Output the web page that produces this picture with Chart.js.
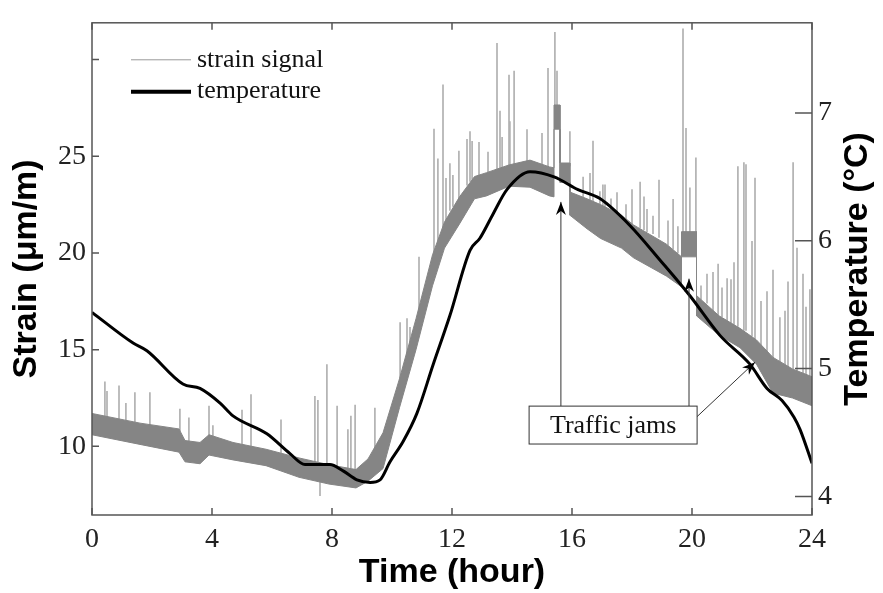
<!DOCTYPE html>
<html>
<head>
<meta charset="utf-8">
<script src="https://cdn.jsdelivr.net/npm/chart.js@4.4.1/dist/chart.umd.min.js"></script>
<style>
  html, body { margin: 0; padding: 0; background: #fff; }
  #wrap { width: 883px; height: 593px; }
</style>
</head>
<body>
<div id="wrap"><canvas id="chart"></canvas></div>
<script>
// ticks
const xTicks = [0, 4, 8, 12, 16, 20, 24];
const strainTicks = [10, 15, 20, 25, 30];
const strainLabels = ['10', '15', '20', '25', ''];
const tempTicks = [4, 5, 6, 7];

// temperature (right axis, °C)
const tempHours = [0, 1.37, 1.83, 3.03, 3.6, 4.27, 4.7, 5.83, 6.6, 7.1, 7.43, 7.93, 8.37, 8.83, 9.27, 9.6, 9.93, 10.37, 10.83, 11.37, 11.93, 12.6, 12.93, 13.37, 13.83, 14.6, 15.4, 16.2, 16.93, 17.93, 18.93, 19.93, 20.93, 21.93, 22.5, 23.0, 23.4, 23.6, 24];
const tempValues = [5.44, 5.2, 5.14, 4.88, 4.845, 4.73, 4.63, 4.49, 4.335, 4.25, 4.25, 4.25, 4.2, 4.13, 4.11, 4.13, 4.27, 4.43, 4.65, 5.03, 5.415, 5.925, 6.02, 6.21, 6.4, 6.54, 6.5, 6.4, 6.33, 6.12, 5.85, 5.57, 5.26, 5.035, 4.845, 4.75, 4.62, 4.525, 4.26];

// strain signal: dense band (upper / lower edge) ...
const bandHours = [0, 1.6, 2.9, 3.1, 3.6, 3.9, 4.7, 5.8, 6.9, 7.9, 8.8, 9.2, 9.7, 10.25, 10.8, 11.35, 11.75, 12.25, 12.75, 13.15, 13.9, 14.6, 15.25, 15.4, 15.4, 15.6, 15.6, 15.93, 15.93, 16.5, 16.95, 17.65, 18.05, 19.15, 19.65, 19.65, 20.15, 20.15, 20.9, 21.6, 22.15, 22.7, 23.35, 24];
const bandUpper = [11.7, 11.2, 10.9, 10.3, 10.2, 10.6, 10.2, 9.85, 9.4, 9.05, 8.8, 9.35, 10.7, 13.5, 16.6, 19.9, 21.6, 22.9, 23.95, 24.15, 24.55, 24.8, 24.45, 24.4, 27.65, 27.65, 24.65, 24.65, 23.15, 22.8, 22.5, 21.95, 21.45, 20.45, 19.8, 21.1, 21.1, 17.8, 16.75, 16.1, 15.5, 14.6, 14.0, 13.6];
const bandLower = [10.6, 10.1, 9.7, 9.2, 9.1, 9.55, 9.3, 9.0, 8.4, 8.05, 7.85, 8.2, 8.85, 12.0, 15.0, 18.3, 20.25, 21.5, 22.8, 22.95, 23.45, 23.4, 22.95, 22.9, 26.4, 26.4, 23.65, 23.65, 21.95, 21.25, 20.75, 20.25, 19.75, 18.8, 18.25, 19.8, 19.8, 16.75, 15.75, 15.1, 14.25, 12.75, 12.5, 12.1];

// ... and the single spikes above it
const spikeHours = [0.43, 0.5, 0.9, 1.13, 1.43, 1.93, 2.93, 3.23, 3.9, 4.03, 5.0, 5.3, 6.3, 7.43, 7.53, 7.6, 7.83, 8.17, 8.53, 8.63, 8.77, 9.43, 10.27, 10.5, 10.6, 10.9, 11.4, 11.53, 11.7, 11.8, 11.93, 12.03, 12.23, 12.5, 12.6, 12.67, 12.9, 13.2, 13.5, 13.6, 13.67, 13.9, 13.93, 14.07, 14.5, 15.0, 15.2, 15.43, 15.5, 15.93, 16.37, 16.6, 16.7, 16.93, 17.03, 17.1, 17.3, 17.5, 17.8, 18.0, 18.27, 18.4, 18.5, 18.7, 18.9, 19.2, 19.37, 19.53, 19.7, 19.8, 19.93, 20.13, 20.3, 20.5, 20.7, 20.87, 21.0, 21.17, 21.3, 21.4, 21.53, 21.73, 21.8, 22.0, 22.1, 22.3, 22.5, 22.7, 22.93, 23.1, 23.2, 23.37, 23.5, 23.7, 23.8, 23.93];
const spikeBase = [11.5, 11.5, 11.3, 11.2, 11.1, 11.0, 10.8, 10.2, 10.5, 10.4, 10.1, 10.0, 9.6, 9.2, 9.2, 7.45, 9.1, 9.0, 8.9, 8.9, 8.8, 9.8, 13.3, 14.6, 15.2, 17.0, 19.7, 20.5, 21.3, 21.7, 22.2, 22.4, 22.8, 23.5, 23.7, 23.8, 24.0, 24.1, 24.3, 24.3, 24.4, 24.5, 24.5, 24.6, 24.7, 24.5, 24.4, 27.5, 27.5, 24.5, 22.9, 22.7, 22.7, 22.4, 22.3, 22.3, 22.1, 22.0, 21.7, 21.5, 21.3, 21.2, 21.1, 21.0, 20.8, 20.4, 20.2, 20.0, 21.0, 21.0, 21.0, 21.0, 17.6, 17.4, 17.0, 16.8, 16.7, 16.5, 16.4, 16.3, 16.2, 16.0, 16.0, 15.7, 15.5, 15.2, 14.9, 14.5, 14.3, 14.2, 14.1, 14.0, 13.9, 13.7, 13.6, 13.5];
const spikeTop = [13.34, 12.84, 13.13, 12.23, 12.78, 12.78, 11.93, 11.48, 12.08, 11.07, 11.88, 12.68, 11.37, 12.58, 12.38, 8.5, 14.23, 12.08, 10.87, 11.57, 12.13, 11.98, 16.4, 16.6, 16.15, 19.78, 26.41, 24.87, 28.69, 23.86, 24.62, 24.01, 25.27, 25.87, 26.27, 25.77, 25.72, 25.22, 30.84, 27.34, 25.98, 29.2, 26.79, 29.4, 26.38, 26.18, 29.55, 31.41, 29.4, 26.28, 23.92, 24.12, 25.78, 23.17, 23.52, 23.52, 22.8, 23.12, 22.5, 23.27, 23.67, 22.9, 22.26, 21.91, 23.77, 21.66, 22.77, 21.36, 31.59, 26.44, 23.37, 24.92, 18.3, 18.91, 19.0, 19.42, 18.2, 18.67, 18.62, 19.5, 24.47, 24.67, 24.57, 20.6, 23.87, 17.5, 18.0, 19.12, 16.66, 17.0, 18.5, 24.67, 20.25, 18.91, 17.2, 18.1];

// "Traffic jams" note: box corners and arrows (hour, strain)
const jamBox = [14.57, 12.08, 20.17, 10.12];
const jamArrows = [
  [15.63, 12.08, 15.63, 22.64],
  [19.9, 12.08, 19.9, 18.67],
  [20.13, 11.48, 22.1, 14.35]
];

const legendLabels = ['strain signal', 'temperature'];

const serif = "'Liberation Serif', 'Times New Roman', serif";
const sans = "'Liberation Sans', Arial, sans-serif";

function drawArrow(ctx, x0, y0, x1, y1) {
  const a = Math.atan2(y1 - y0, x1 - x0);
  ctx.strokeStyle = '#333';
  ctx.lineWidth = 1;
  ctx.beginPath();
  ctx.moveTo(x0, y0);
  ctx.lineTo(x1, y1);
  ctx.stroke();
  ctx.save();
  ctx.translate(x1, y1);
  ctx.rotate(a);
  ctx.fillStyle = '#000';
  ctx.beginPath();
  ctx.moveTo(0, 0);
  ctx.lineTo(-13, -5);
  ctx.lineTo(-9, 0);
  ctx.lineTo(-13, 5);
  ctx.closePath();
  ctx.fill();
  ctx.restore();
}

const overlay = {
  id: 'overlay',
  afterDatasetsDraw(chart) {
    const { ctx, chartArea: a, scales: { x, y, y2 } } = chart;
    ctx.save();

    // frame and inward ticks
    ctx.strokeStyle = '#555';
    ctx.lineWidth = 1.5;
    ctx.strokeRect(a.left, a.top, a.width, a.height);
    ctx.beginPath();
    xTicks.forEach(v => {
      const px = x.getPixelForValue(v);
      ctx.moveTo(px, a.bottom); ctx.lineTo(px, a.bottom - 7);
      ctx.moveTo(px, a.top); ctx.lineTo(px, a.top + 7);
    });
    strainTicks.forEach(v => {
      const py = y.getPixelForValue(v);
      ctx.moveTo(a.left, py); ctx.lineTo(a.left + 7, py);
    });
    tempTicks.forEach(v => {
      const py = y2.getPixelForValue(v);
      ctx.moveTo(a.right, py); ctx.lineTo(a.right - 17, py);
    });
    ctx.stroke();

    // legend
    const lx = a.left + 39, ly = a.top + 37;
    ctx.strokeStyle = '#999';
    ctx.lineWidth = 1;
    ctx.beginPath(); ctx.moveTo(lx, ly); ctx.lineTo(lx + 60, ly); ctx.stroke();
    ctx.strokeStyle = '#000';
    ctx.lineWidth = 4;
    ctx.beginPath(); ctx.moveTo(lx, ly + 32); ctx.lineTo(lx + 60, ly + 32); ctx.stroke();
    ctx.fillStyle = '#111';
    ctx.font = '26px ' + serif;
    ctx.textBaseline = 'middle';
    ctx.textAlign = 'left';
    ctx.fillText(legendLabels[0], lx + 66, ly);
    ctx.fillText(legendLabels[1], lx + 66, ly + 31);

    // traffic jams note
    jamArrows.forEach(p => drawArrow(ctx,
      x.getPixelForValue(p[0]), y.getPixelForValue(p[1]),
      x.getPixelForValue(p[2]), y.getPixelForValue(p[3])));
    const bx0 = x.getPixelForValue(jamBox[0]), by0 = y.getPixelForValue(jamBox[1]);
    const bx1 = x.getPixelForValue(jamBox[2]), by1 = y.getPixelForValue(jamBox[3]);
    ctx.fillStyle = '#fff';
    ctx.fillRect(bx0, by0, bx1 - bx0, by1 - by0);
    ctx.strokeStyle = '#333';
    ctx.lineWidth = 1;
    ctx.strokeRect(bx0, by0, bx1 - bx0, by1 - by0);
    ctx.fillStyle = '#111';
    ctx.textAlign = 'center';
    ctx.font = '26px ' + serif;
    ctx.fillText('Traffic jams', (bx0 + bx1) / 2, (by0 + by1) / 2 + 1);

    // right axis title, reading bottom to top
    ctx.save();
    ctx.translate(858, (a.top + a.bottom) / 2);
    ctx.rotate(-Math.PI / 2);
    ctx.font = 'bold 34px ' + sans;
    ctx.fillStyle = '#000';
    ctx.fillText('Temperature (°C)', 0, 0);
    ctx.restore();

    ctx.restore();
  }
};

const tickFont = { family: serif, size: 28 };

new Chart(document.getElementById('chart'), {
  data: {
    datasets: [
      {
        type: 'line',
        label: 'temperature',
        yAxisID: 'y2',
        data: tempHours.map((h, i) => ({ x: h, y: tempValues[i] })),
        borderColor: '#000',
        borderWidth: 3,
        pointRadius: 0,
        cubicInterpolationMode: 'monotone',
        fill: false,
        order: 0
      },
      {
        type: 'line',
        label: 'strain signal',
        yAxisID: 'y',
        data: bandHours.map((h, i) => ({ x: h, y: bandUpper[i] })),
        borderColor: '#858585',
        backgroundColor: '#858585',
        borderWidth: 1,
        pointRadius: 0,
        tension: 0,
        fill: '+1',
        order: 1
      },
      {
        type: 'line',
        label: 'strain lower',
        yAxisID: 'y',
        data: bandHours.map((h, i) => ({ x: h, y: bandLower[i] })),
        borderColor: '#858585',
        borderWidth: 1,
        pointRadius: 0,
        tension: 0,
        fill: false,
        order: 1
      },
      {
        type: 'bar',
        label: 'strain spikes',
        yAxisID: 'y',
        data: spikeHours.map((h, i) => ({ x: h, y: [spikeBase[i], spikeTop[i]] })),
        backgroundColor: '#b0b0b0',
        barThickness: 1,
        order: 2
      }
    ]
  },
  options: {
    responsive: true,
    maintainAspectRatio: false,
    animation: false,
    layout: { padding: { top: 9 } },
    plugins: {
      legend: { display: false },
      tooltip: { enabled: false }
    },
    scales: {
      x: {
        type: 'linear',
        min: 0,
        max: 24,
        offset: false,
        afterBuildTicks: s => { s.ticks = xTicks.map(v => ({ value: v })); },
        afterFit: s => { s.height = 78; },
        grid: { display: false, drawTicks: false },
        border: { display: false },
        ticks: { font: tickFont, color: '#222', padding: 8, maxRotation: 0 },
        title: {
          display: true,
          text: 'Time (hour)',
          font: { family: sans, size: 34, weight: 'bold' },
          color: '#000',
          padding: { top: 0, bottom: 0 }
        }
      },
      y: {
        position: 'left',
        min: 6.45,
        max: 31.9,
        afterBuildTicks: s => { s.ticks = strainTicks.map(v => ({ value: v })); },
        afterFit: s => { s.width = 92; },
        grid: { display: false, drawTicks: false },
        border: { display: false },
        ticks: {
          font: tickFont,
          color: '#222',
          padding: 6,
          callback: v => strainLabels[strainTicks.indexOf(v)]
        },
        title: {
          display: true,
          text: 'Strain (μm/m)',
          font: { family: sans, size: 34, weight: 'bold' },
          color: '#000',
          padding: { top: 6, bottom: 0 }
        }
      },
      y2: {
        position: 'right',
        min: 3.855,
        max: 7.705,
        afterBuildTicks: s => { s.ticks = tempTicks.map(v => ({ value: v })); },
        afterFit: s => { s.width = 71; },
        grid: { display: false, drawTicks: false },
        border: { display: false },
        ticks: { font: tickFont, color: '#222', padding: 6 }
      }
    }
  },
  plugins: [overlay]
});
</script>
</body>
</html>
